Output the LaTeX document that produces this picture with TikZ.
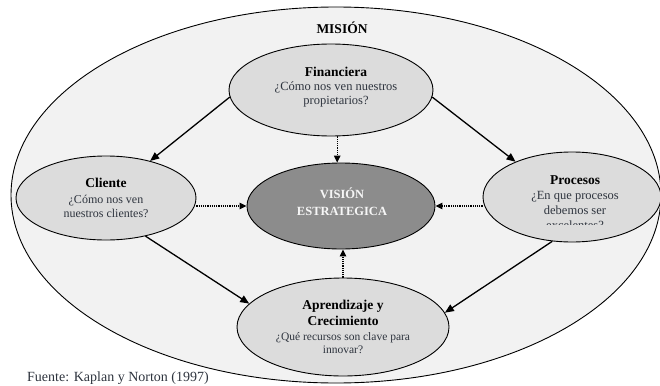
\documentclass[tikz,border=0pt]{standalone}
\usepackage{fontspec}
\setmainfont{Liberation Serif}
\usetikzlibrary{shapes.geometric,arrows.meta}
\definecolor{outerfill}{HTML}{F2F2F2}
\definecolor{bubble}{HTML}{DCDCDC}
\definecolor{core}{HTML}{8C8C8C}
\definecolor{question}{HTML}{2E343E}
\begin{document}
\begin{tikzpicture}[x=1pt,y=-1pt,
  oval/.style={ellipse, draw=black, line width=0.9pt, fill=bubble, inner sep=0pt},
  title/.style={font=\fontsize{13.5}{16}\selectfont\bfseries, align=center, inner sep=0pt},
  ask/.style={font=\fontsize{12.5}{14}\selectfont, text=question, align=center, inner sep=0pt},
  flow/.style={line width=1.3pt, -{Triangle[length=9pt,width=7.5pt]}},
  hint/.style={line width=1.1pt, dash pattern=on 1.1pt off 1.1pt, -{Triangle[length=7pt,width=6.5pt]}}
]
\useasboundingbox (0,0) rectangle (660,385);

% outer "mission" ellipse and the five perspectives
\node[oval, fill=outerfill, minimum width=650pt, minimum height=376pt] (mision) at (336,195) {};
\node[oval, minimum width=204pt, minimum height=92pt] (fin) at (331,90) {};
\node[oval, minimum width=180pt, minimum height=84pt] (cli) at (106,198) {};
\node[oval, minimum width=178pt, minimum height=90pt] (proc) at (572,197) {};
\node[oval, fill=core, minimum width=188pt, minimum height=86pt] (vis) at (341,206) {};
\node[oval, minimum width=212pt, minimum height=98pt] (apr) at (343,327) {};

% labels
\node[title] (misT) at (342,28) {MISIÓN};

\node[title] (finT) at (336,72) {Financiera};
\node[ask] (finQ) at (336,94) {¿Cómo nos ven nuestros\\propietarios?};

\node[title] (cliT) at (106,183) {Cliente};
\node[ask, font=\fontsize{12}{13.5}\selectfont] (cliQ) at (106,206.5) {¿Cómo nos ven\\nuestros clientes?};

\node[title] (procT) at (575,180) {Procesos};
\begin{scope}
  \clip (480,150) rectangle (660,224.5);
  \node[ask, font=\fontsize{12.5}{15}\selectfont] (procQ) at (575,210) {¿En que procesos\\debemos ser\\excelentes?};
\end{scope}

\node[title, font=\fontsize{12.5}{17}\selectfont\bfseries, text=white!93!gray] (visT) at (342,201.5) {VISIÓN\\ESTRATEGICA};

\node[title] (aprT) at (343,313) {Aprendizaje y\\Crecimiento};
\node[ask, font=\fontsize{11.5}{13}\selectfont] (aprQ) at (343,343.5) {¿Qué recursos son clave para\\innovar?};

\node[anchor=base west, inner sep=0pt, font=\fontsize{14}{16}\selectfont, text=question] (fuente) at (27,381) {Fuente: Kaplan y Norton (1997)};

% cause-and-effect links
\draw[flow] (fin.184) -- (cli.40);
\draw[flow] (fin.356) -- (proc.148);
\draw[flow] (cli.316) -- (apr.166);
\draw[flow] (proc.246) -- (apr.8);

% contributions to the strategic vision
\draw[hint] (fin.south -| vis.95) -- (vis.95);
\draw[hint] (cli.east |- vis.west) -- (vis.west);
\draw[hint] (proc.west |- vis.east) -- (vis.east);
\draw[hint] (apr.north) -- (apr.north |- vis.south);
\end{tikzpicture}
\end{document}
